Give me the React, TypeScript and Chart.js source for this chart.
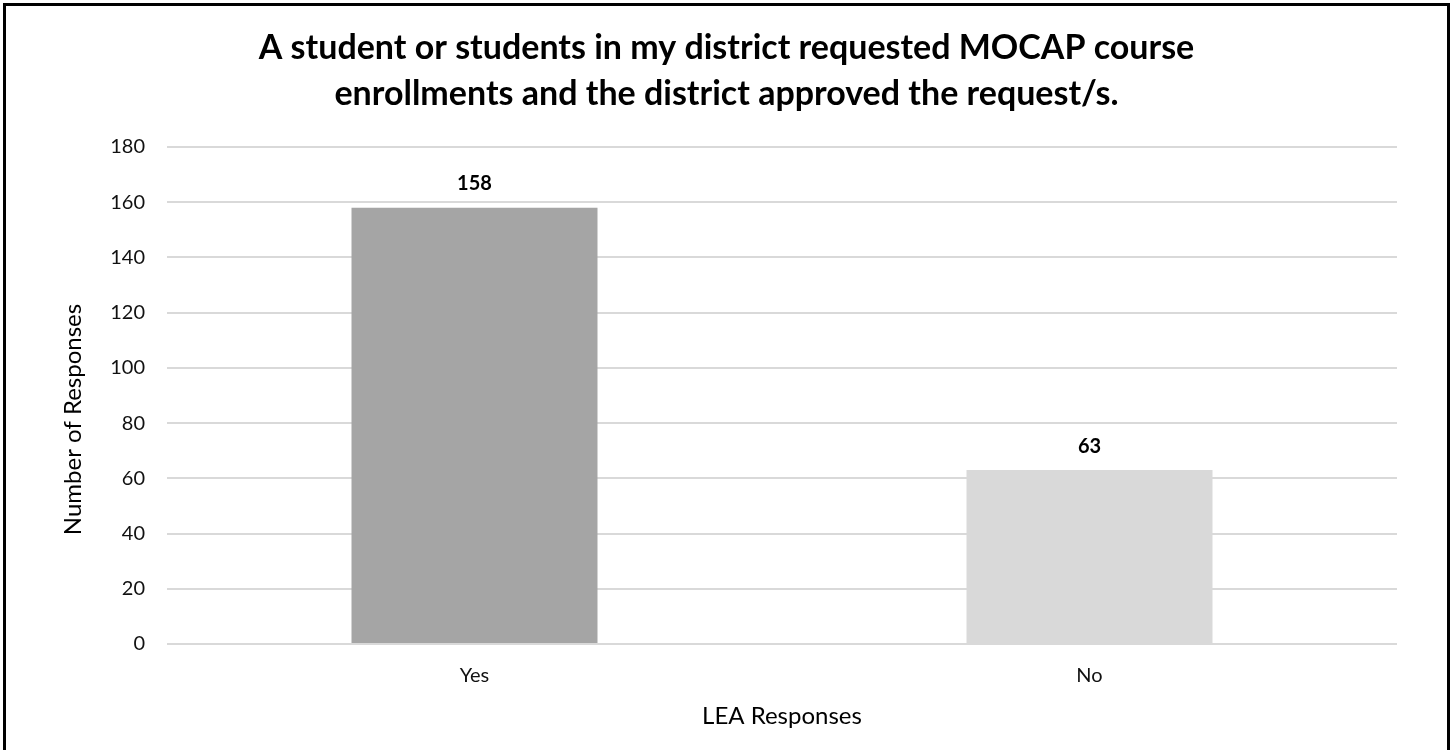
import React, { useEffect, useRef } from "react";
import { Chart, registerables } from "chart.js";

Chart.register(...registerables);

const categories = ["Yes", "No"];
const responses = [158, 63];
const barColors = ["#a5a5a5", "#d9d9d9"];
const yTicksMax = 180;
const yTicksStep = 20;
const titleLines = [
  "A student or students in my district requested MOCAP course",
  "enrollments and the district approved the request/s.",
];
const xTitle = "LEA Responses";
const yTitle = "Number of Responses";

const FONT = "Lato, 'Open Sans', sans-serif";

const valueLabels = {
  id: "valueLabels",
  afterDatasetsDraw(chart: any) {
    const ctx = chart.ctx;
    const meta = chart.getDatasetMeta(0);
    ctx.save();
    ctx.font = `bold 20px ${FONT}`;
    ctx.fillStyle = "#000";
    ctx.textAlign = "center";
    ctx.textBaseline = "middle";
    meta.data.forEach((bar: any, i: number) => {
      ctx.fillText(String(chart.data.datasets[0].data[i]), bar.x, bar.y - 24);
    });
    ctx.restore();
  },
};

const yAxisTitle = {
  id: "yAxisTitle",
  afterDraw(chart: any) {
    const ctx = chart.ctx;
    const area = chart.chartArea;
    ctx.save();
    ctx.font = `24px ${FONT}`;
    ctx.fillStyle = "#000";
    ctx.textAlign = "center";
    ctx.textBaseline = "middle";
    ctx.translate(73, (area.top + area.bottom) / 2 + 24);
    ctx.rotate(-Math.PI / 2);
    ctx.fillText(yTitle, 0, 0);
    ctx.restore();
  },
};

export default function App() {
  const ref = useRef<HTMLCanvasElement>(null);
  useEffect(() => {
    if (!ref.current) return;
    const chart = new Chart(ref.current, {
      type: "bar",
      data: {
        labels: categories,
        datasets: [
          {
            data: responses,
            backgroundColor: barColors,
            borderWidth: 0,
            barPercentage: 0.4,
            categoryPercentage: 1.0,
          },
        ],
      },
      options: {
        responsive: false,
        animation: false,
        layout: { padding: { left: 56, right: 56, top: 0, bottom: 0 } },
        plugins: {
          legend: { display: false },
          tooltip: { enabled: false },
          title: {
            display: true,
            text: titleLines,
            color: "#000",
            font: { family: FONT, size: 34, weight: "bold", lineHeight: "46px" },
            padding: { top: 25, bottom: 30 },
          },
        },
        scales: {
          x: {
            grid: { display: false, drawTicks: false },
            border: { display: false },
            ticks: { color: "#111", font: { family: FONT, size: 20 }, padding: 20 },
            title: {
              display: true,
              text: xTitle,
              color: "#000",
              font: { family: FONT, size: 24 },
              padding: { top: 0, bottom: 19 },
            },
            afterFit: (s: any) => {
              s.height = 106;
            },
          },
          y: {
            min: 0,
            max: yTicksMax,
            grid: { color: "#d9d9d9", lineWidth: 2, drawTicks: false },
            border: { display: false },
            ticks: {
              stepSize: yTicksStep,
              color: "#111",
              font: { family: FONT, size: 20 },
              padding: 22,
            },
            afterFit: (s: any) => {
              s.width = 111;
            },
          },
        },
      },
      plugins: [valueLabels, yAxisTitle],
    });
    return () => chart.destroy();
  }, []);
  return (
    <div
      style={{
        position: "fixed",
        left: 0,
        top: 0,
        width: 1453,
        height: 750,
        overflow: "hidden",
        background: "#fff",
      }}
    >
      <canvas ref={ref} width={1453} height={750} style={{ display: "block" }} />
      <div
        style={{
          position: "absolute",
          left: 3,
          top: 3,
          width: 1447,
          height: 800,
          border: "3px solid #000",
          boxSizing: "border-box",
          pointerEvents: "none",
        }}
      />
    </div>
  );
}
